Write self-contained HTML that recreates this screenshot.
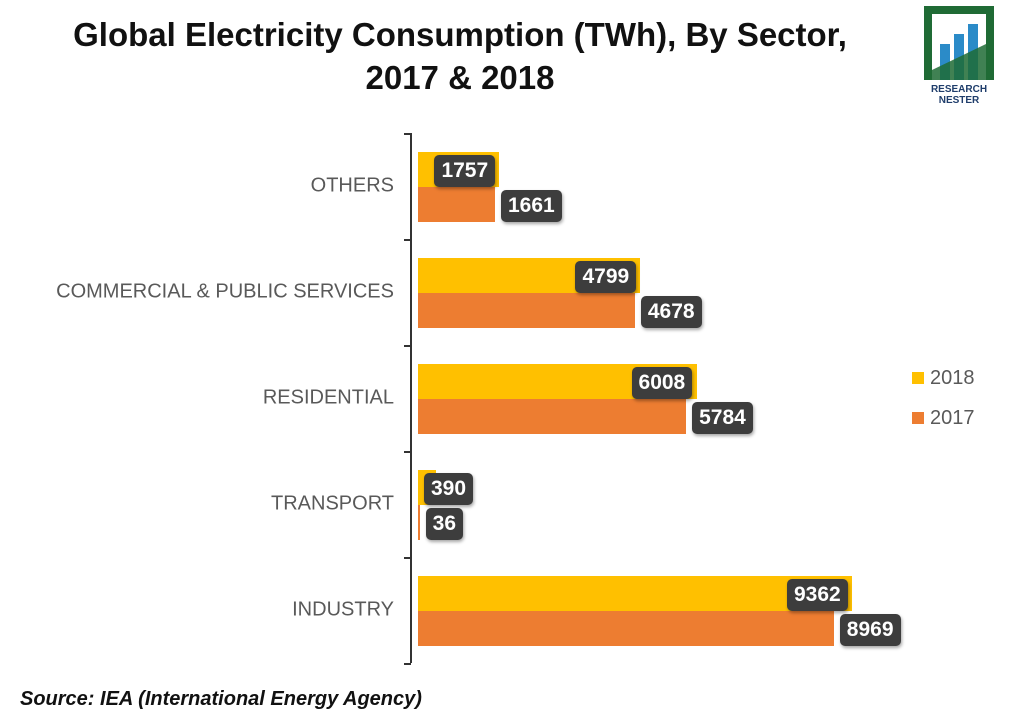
<!DOCTYPE html>
<html><head><meta charset="utf-8"><style>
body{margin:0;width:1024px;height:720px;background:#fff;overflow:hidden;font-family:"Liberation Sans",sans-serif;position:relative}
.t{position:absolute;left:0;width:920px;text-align:center;font-weight:bold;font-size:33px;color:#111;line-height:43px}
.cat{position:absolute;right:630px;font-size:20px;color:#595959;white-space:nowrap;transform:translateY(-50%)}
.bar{position:absolute}
.lbl{position:absolute;background:#3d3d3d;color:#fff;font-weight:bold;font-size:21px;height:32px;line-height:32px;padding:0 7px;border-radius:5px;box-shadow:1px 2px 3px rgba(0,0,0,.35)}
.leg{position:absolute;left:912px;font-size:20px;color:#595959}
.leg span{display:inline-block;width:12px;height:12px;margin-right:6px}
</style></head><body>
<div class="t" style="top:13px">Global Electricity Consumption (TWh), By Sector,<br>2017 &amp; 2018</div>
<svg style="position:absolute;left:922px;top:4px" width="76" height="100" viewBox="0 0 76 100">
<path d="M2 2H72V76H64V10H10V76H2Z" fill="#1f6b35"/>
<rect x="18" y="40" width="10" height="36" fill="#2b8bc8"/><rect x="32" y="30" width="10" height="46" fill="#2b8bc8"/><rect x="46" y="20" width="10" height="56" fill="#2b8bc8"/>
<polygon points="10,76 10,66 64,40 64,76" fill="#1f6b35" opacity=".85"/>
<text x="37" y="88" font-size="10" font-weight="bold" text-anchor="middle" fill="#1f3d6b" font-family="Liberation Sans">RESEARCH</text>
<text x="37" y="99" font-size="10" font-weight="bold" text-anchor="middle" fill="#1f3d6b" font-family="Liberation Sans">NESTER</text>
</svg>
<div id="chart"></div>
<div class="leg" style="top:367px"><span style="background:#ffc000"></span>2018</div>
<div class="leg" style="top:407px"><span style="background:#ed7d31"></span>2017</div>
<div style="position:absolute;left:20px;top:688px;font-size:20px;font-weight:bold;font-style:italic;color:#111">Source: IEA (International Energy Agency)</div>
<script>
const categories=["OTHERS","COMMERCIAL & PUBLIC SERVICES","RESIDENTIAL","TRANSPORT","INDUSTRY"];
const values2018=[1757,4799,6008,390,9362];
const values2017=[1661,4678,5784,36,8969];
const x0=418,scale=434/9362,top0=133,band=106;
const xs=v=>x0+v*scale;
const c=document.getElementById('chart');
function mk(cls,css,txt){const d=document.createElement('div');d.className=cls;d.style.cssText=css;if(txt!==undefined)d.textContent=txt;c.appendChild(d);return d;}
const ax=mk('bar','left:410px;top:'+top0+'px;width:2px;height:'+(band*5)+'px;background:#333');


for(let i=0;i<=5;i++){const t=mk('bar','left:404px;top:'+(top0+i*band)+'px;width:7px;height:2px;background:#333');

}
categories.forEach((cat,i)=>{
 const by=top0+i*band+19;
 const l=mk('cat','top:'+(top0+i*band+band/2)+'px',cat);
 
 
 const w1=xs(values2018[i])-x0,w2=xs(values2017[i])-x0;
 const b1=mk('bar','left:'+x0+'px;top:'+by+'px;width:'+w1+'px;height:35px;background:#ffc000');
 
 
 const b2=mk('bar','left:'+x0+'px;top:'+(by+35)+'px;width:'+w2+'px;height:35px;background:#ed7d31');
 
 
 const l1=mk('lbl','top:'+(by+3)+'px',String(values2018[i]));
 l1.style.left=Math.max(x0+6,x0+w1-4-l1.offsetWidth)+'px';
 
 
 const l2=mk('lbl','top:'+(by+38)+'px;left:'+(x0+Math.max(w2,w1*0)+6)+'px',String(values2017[i]));
 
 
});
</script>
</body></html>
